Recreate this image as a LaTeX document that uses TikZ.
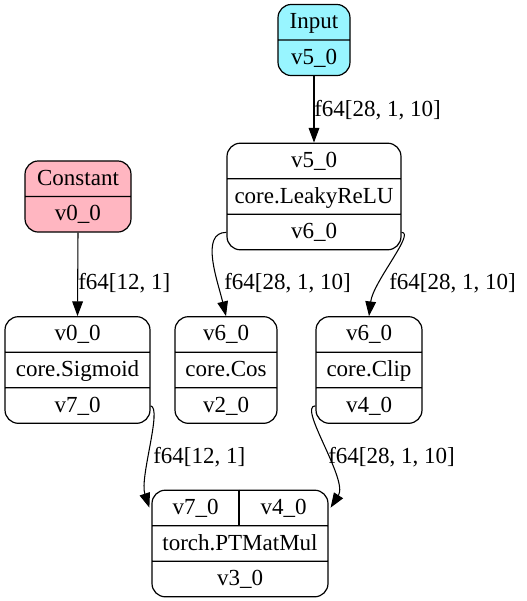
\documentclass[tikz,border=0pt]{standalone}
\usepackage{fontspec}
\setmainfont{Liberation Serif}
\usetikzlibrary{shapes.multipart,calc}
\usepgflibrary{arrows.meta}
\definecolor{inputcol}{HTML}{98F5FF}
\definecolor{constcol}{HTML}{FFB6C1}
\newcommand{\gvfont}{\fontsize{17.25}{20}\selectfont}
\newcommand{\prt}[1]{\rule[-8pt]{0pt}{25.75pt}#1}
\tikzset{
  rec/.style={draw=black, line width=0.9pt, rectangle split, rectangle split parts=#1,
    rounded corners=10pt, inner xsep=4pt, inner ysep=0pt, font=\gvfont},
  rec/.default=3,
  lbl/.style={inner sep=0pt, anchor=west, font=\gvfont},
  edge/.style={line width=0.8pt, -{Triangle[length=11pt,width=8pt]}},
}

\begin{document}
\begin{tikzpicture}[x=0.75pt,y=-0.75pt]
        \useasboundingbox (0,0) rectangle (526,601);
        %输入与常量
        \node[rec=2, fill=inputcol, minimum width=54pt] (inp) at (314,40) {\prt{Input}\nodepart{two}\prt{v5\_0}};
        \node[rec=2, fill=constcol, minimum width=79.5pt] (cst) at (78,196.5) {\prt{Constant}\nodepart{two}\prt{v0\_0}};
        %算子
        \node[rec, minimum width=130.5pt] (relu) at (314,196.5) {\prt{v5\_0}\nodepart{two}\prt{core.LeakyReLU}\nodepart{three}\prt{v6\_0}};
        \node[rec, minimum width=108.75pt] (sig) at (77.5,370) {\prt{v0\_0}\nodepart{two}\prt{core.Sigmoid}\nodepart{three}\prt{v7\_0}};
        \node[rec, minimum width=76.5pt] (cos) at (226,370) {\prt{v6\_0}\nodepart{two}\prt{core.Cos}\nodepart{three}\prt{v2\_0}};
        \node[rec, minimum width=79.5pt] (clip) at (369,370) {\prt{v6\_0}\nodepart{two}\prt{core.Clip}\nodepart{three}\prt{v4\_0}};
        \node[rec, minimum width=132pt] (mm) at (240,543.5) {\prt{}\nodepart{two}\prt{torch.PTMatMul}\nodepart{three}\prt{v3\_0}};
        %矩阵乘法的两个输入端口
        \draw [line width=0.9pt] ([xshift=-0.75pt]mm.north) -- ([xshift=-0.75pt]mm.text split);
        \node[inner sep=0pt, font=\gvfont] (mma) at ($(mm.north)!0.5!(mm.text split)+(-44.5,0)$) {\prt{v7\_0}};
        \node[inner sep=0pt, font=\gvfont] (mmb) at ($(mm.north)!0.5!(mm.text split)+(43.5,0)$) {\prt{v4\_0}};
        %端口坐标
        \coordinate (reluL) at ($(relu.two split west)!0.5!(relu.south west)$);
        \coordinate (reluR) at ($(relu.two split east)!0.5!(relu.south east)$);
        \coordinate (sigR) at ($(sig.two split east)!0.5!(sig.south east)$);
        \coordinate (clipL) at ($(clip.two split west)!0.5!(clip.south west)$);
        \coordinate (mmL) at ($(mm.north west)!0.5!(mm.text split west)$);
        \coordinate (mmR) at ($(mm.north east)!0.5!(mm.text split east)$);
        %连线
        \draw [edge] (inp.south) -- (relu.north);
        \draw [edge] (cst.south) -- (sig.north);
        \draw [edge] (reluL) .. controls +(-27,0) and +(-8,-34) .. (cos.north);
        \draw [edge] (reluR) .. controls +(14,0) and +(4,-34) .. (clip.north);
        \draw [edge] (sigR) .. controls +(12,2) and +(-10,-30) .. ([xshift=-1.5pt]mmL);
        \draw [edge] (clipL) .. controls +(-18,0) and +(18,-28) .. ([xshift=1.5pt]mmR);
        %标签
        \node[lbl] (t1) at (314,110) {f64[28, 1, 10]};
        \node[lbl] (t2) at (78,283) {f64[12, 1]};
        \node[lbl] (t3) at (224,283) {f64[28, 1, 10]};
        \node[lbl] (t4) at (389,283) {f64[28, 1, 10]};
        \node[lbl] (t5) at (153,457) {f64[12, 1]};
        \node[lbl] (t6) at (328,457) {f64[28, 1, 10]};
\end{tikzpicture}
\end{document}
